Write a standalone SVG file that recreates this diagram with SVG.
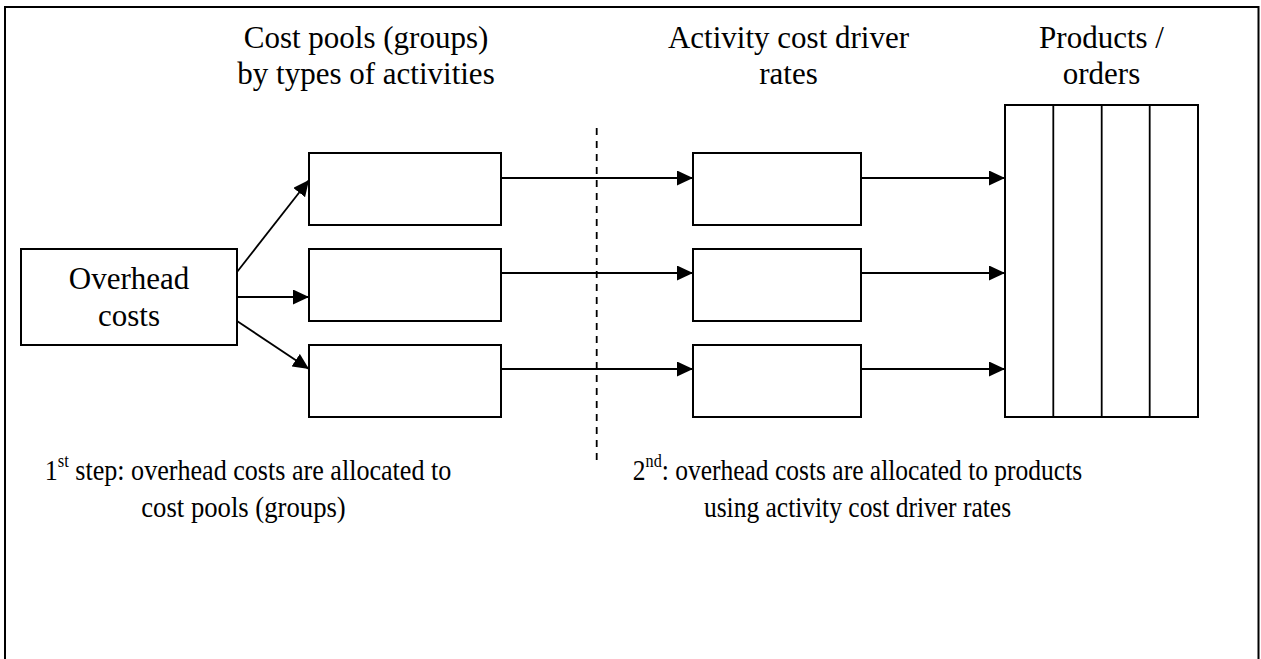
<svg xmlns="http://www.w3.org/2000/svg" width="1261" height="659" viewBox="0 0 1261 659">
  <style>
    .box { fill: #fff; stroke: #000; stroke-width: 2; }
    .frame { fill: none; stroke: #000; stroke-width: 2; }
    .conn { stroke: #000; stroke-width: 1.8; fill: none; }
    .divider { stroke: #000; stroke-width: 1.8; stroke-dasharray: 7 6; fill: none; }
    .hdr { font-family: "Liberation Serif", "Times New Roman", serif; font-size: 31px; fill: #000; text-anchor: middle; }
    .note { font-family: "Liberation Serif", "Times New Roman", serif; font-size: 30px; fill: #000; text-anchor: middle; }
    .sup { font-size: 19px; }
  </style>
  <defs>
    <marker id="arrow" markerUnits="userSpaceOnUse" markerWidth="16" markerHeight="15" refX="16" refY="7.5" orient="auto">
      <path d="M0,0 L16,7.5 L0,15 z" fill="#000"/>
    </marker>
  </defs>

  <!-- outer frame -->
  <rect class="frame" x="5" y="7" width="1253.5" height="700"/>

  <!-- column headings -->
  <g id="heading-pools">
    <text class="hdr" x="366" y="47.5">Cost pools (groups)</text>
    <text class="hdr" x="366" y="84">by types of activities</text>
  </g>
  <g id="heading-rates">
    <text class="hdr" x="788.5" y="47.5">Activity cost driver</text>
    <text class="hdr" x="788.5" y="84">rates</text>
  </g>
  <g id="heading-products">
    <text class="hdr" x="1101.5" y="47.5">Products /</text>
    <text class="hdr" x="1101.5" y="84">orders</text>
  </g>

  <!-- step separator -->
  <line class="divider" x1="596.7" y1="128" x2="596.7" y2="466"/>

  <!-- connectors -->
  <g id="connectors">
    <line class="conn" x1="237" y1="272" x2="309" y2="180" marker-end="url(#arrow)"/>
    <line class="conn" x1="237" y1="297" x2="309" y2="297" marker-end="url(#arrow)"/>
    <line class="conn" x1="237" y1="321" x2="309" y2="369" marker-end="url(#arrow)"/>

    <line class="conn" x1="501" y1="178" x2="693" y2="178" marker-end="url(#arrow)"/>
    <line class="conn" x1="501" y1="273" x2="693" y2="273" marker-end="url(#arrow)"/>
    <line class="conn" x1="501" y1="369" x2="693" y2="369" marker-end="url(#arrow)"/>

    <line class="conn" x1="861" y1="178" x2="1005" y2="178" marker-end="url(#arrow)"/>
    <line class="conn" x1="861" y1="273" x2="1005" y2="273" marker-end="url(#arrow)"/>
    <line class="conn" x1="861" y1="369" x2="1005" y2="369" marker-end="url(#arrow)"/>
  </g>

  <!-- overhead costs -->
  <g id="overhead">
    <rect class="box" x="21" y="249" width="216" height="96"/>
    <text class="hdr" x="129" y="289">Overhead</text>
    <text class="hdr" x="129" y="326">costs</text>
  </g>

  <!-- cost pools -->
  <g id="pool-1"><rect class="box" x="309" y="153" width="192" height="72"/></g>
  <g id="pool-2"><rect class="box" x="309" y="249" width="192" height="72"/></g>
  <g id="pool-3"><rect class="box" x="309" y="345" width="192" height="72"/></g>

  <!-- activity cost driver rates -->
  <g id="rate-1"><rect class="box" x="693" y="153" width="168" height="72"/></g>
  <g id="rate-2"><rect class="box" x="693" y="249" width="168" height="72"/></g>
  <g id="rate-3"><rect class="box" x="693" y="345" width="168" height="72"/></g>

  <!-- products / orders -->
  <g id="products">
    <rect class="box" x="1005" y="105" width="193" height="312"/>
    <line class="conn" x1="1053.3" y1="105" x2="1053.3" y2="417"/>
    <line class="conn" x1="1101.7" y1="105" x2="1101.7" y2="417"/>
    <line class="conn" x1="1149.7" y1="105" x2="1149.7" y2="417"/>
  </g>

  <!-- step notes -->
  <g id="step-1">
    <text class="note" transform="translate(248,480) scale(0.87,1)">1<tspan class="sup" dy="-13">st</tspan><tspan dy="13"> step: overhead costs are allocated to</tspan></text>
    <text class="note" transform="translate(243.5,517) scale(0.89,1)">cost pools (groups)</text>
  </g>
  <g id="step-2">
    <text class="note" transform="translate(857.5,480) scale(0.85,1)">2<tspan class="sup" dy="-13">nd</tspan><tspan dy="13">: overhead costs are allocated to products</tspan></text>
    <text class="note" transform="translate(857.5,517) scale(0.85,1)">using activity cost driver rates</text>
  </g>
</svg>
